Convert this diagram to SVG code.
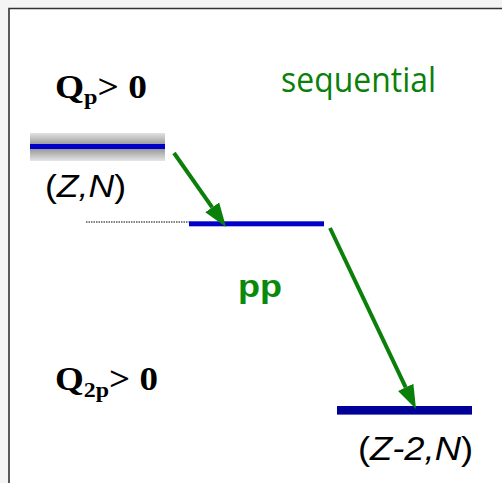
<svg xmlns="http://www.w3.org/2000/svg" width="502" height="483" viewBox="0 0 502 483">
<style>
.q{font-family:"Liberation Serif",serif;font-weight:bold;fill:#000}
.zn{font-family:"Liberation Sans",Arial,sans-serif;fill:#000}
.arr{stroke:#0a800a;stroke-width:4;fill:none}
</style>
<defs>
<linearGradient id="g" x1="0" y1="0" x2="0" y2="1">
<stop offset="0" stop-color="#e2e2e2"/>
<stop offset="0.42" stop-color="#9a9a9a"/>
<stop offset="0.58" stop-color="#9a9a9a"/>
<stop offset="1" stop-color="#e6e6e6"/>
</linearGradient>
<marker id="ah" markerUnits="userSpaceOnUse" markerWidth="26" markerHeight="20" viewBox="0 -9 26 18" refX="0" refY="0" orient="auto">
<path d="M0,-8.5 L24,0 L0,8.5 z" fill="#0a800a"/>
</marker>
</defs>
<rect width="502" height="483" fill="#f4f4f4"/>
<rect x="9" y="9" width="493" height="474" fill="#fff"/>
<path d="M9,483 V8.5 H502" fill="none" stroke="#333" stroke-width="1.6"/>
<g id="level-ZN">
<rect x="30" y="133" width="135" height="28" fill="url(#g)"/>
<rect x="30" y="144" width="135" height="5" fill="#0000c8"/>
</g>
<g id="level-mid">
<line x1="86" y1="222" x2="189" y2="222" stroke="#000" stroke-width="1" stroke-dasharray="1.5,1"/>
<rect x="189" y="221.3" width="135" height="5" fill="#0000c8"/>
</g>
<g id="level-Z2N">
<rect x="337" y="406" width="135" height="8.6" fill="#000099"/>
</g>
<g id="connectors">
<line class="arr" x1="174" y1="153" x2="212.2" y2="207.3" marker-end="url(#ah)"/>
<line class="arr" x1="330" y1="228" x2="405.7" y2="387.3" marker-end="url(#ah)"/>
</g>
<g id="labels">
<text class="q" x="55" y="98" font-size="34" textLength="92" lengthAdjust="spacingAndGlyphs">Q<tspan font-size="22" dy="6">p</tspan><tspan dy="-6">&gt; 0</tspan></text>
<text class="q" x="55" y="390" font-size="34" textLength="103" lengthAdjust="spacingAndGlyphs">Q<tspan font-size="22" dy="7">2p</tspan><tspan dy="-7">&gt; 0</tspan></text>
<text class="zn" x="45" y="197" font-size="32" textLength="81" lengthAdjust="spacingAndGlyphs">(<tspan font-style="italic">Z,N</tspan>)</text>
<text class="zn" x="358" y="460" font-size="34" textLength="115" lengthAdjust="spacingAndGlyphs">(<tspan font-style="italic">Z-2,N</tspan>)</text>
<text x="281" y="92" font-family="Open Sans,sans-serif" font-size="34" fill="#0a800a" textLength="155" lengthAdjust="spacingAndGlyphs">sequential</text>
<text x="238" y="297" font-family="Liberation Sans,Arial,sans-serif" font-weight="bold" font-size="32" fill="#0a8a0a" textLength="44" lengthAdjust="spacingAndGlyphs">pp</text>
</g>
</svg>
